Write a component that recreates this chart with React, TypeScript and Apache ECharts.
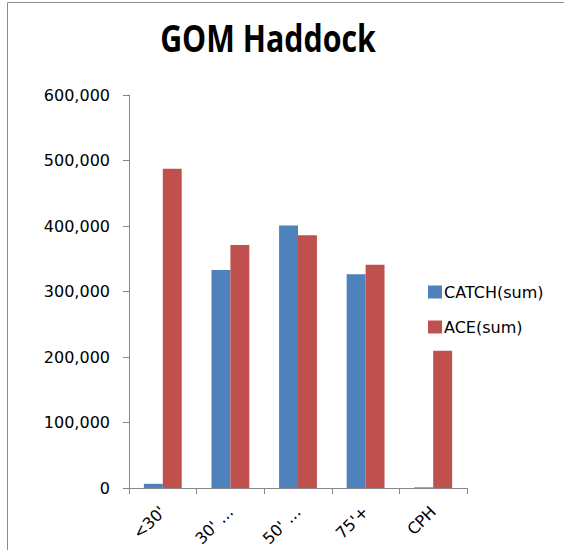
import React, { useEffect, useRef } from "react";
import * as echarts from "echarts";

const categories = ["<30'", "30' …", "50' …", "75'+", "CPH"];
const catchSum = [6400, 333000, 400600, 326500, 1000];
const aceSum = [487500, 371000, 386000, 340700, 209600];
const yTicks = [0, 100000, 200000, 300000, 400000, 500000, 600000];

export default function App() {
  const ref = useRef<HTMLDivElement>(null);
  useEffect(() => {
    const chart = echarts.init(ref.current!, null, { renderer: "svg" });
    const font = "DejaVu Sans";
    chart.setOption({
      animation: false,
      backgroundColor: "#ffffff",
      graphic: [
        {
          type: "rect",
          shape: { x: 7.5, y: 2.5, width: 600, height: 600 },
          style: { fill: "none", stroke: "#8c8c8c", lineWidth: 1 },
          silent: true,
        },
        {
          type: "text",
          x: 268,
          y: 19,
          scaleX: 0.82,
          style: {
            text: "GOM Haddock",
            fontFamily: "'Open Sans', sans-serif",
            fontWeight: "bold",
            fontSize: 37,
            fill: "#000000",
            textAlign: "center",
            textVerticalAlign: "top",
          },
        },
      ],
      legend: {
        orient: "vertical",
        left: 428,
        top: 284,
        padding: 0,
        itemWidth: 14,
        itemHeight: 13,
        itemGap: 19,
        icon: "rect",
        textStyle: { fontFamily: font, fontSize: 16, color: "#000", padding: [0, 0, 0, -3] },
        data: ["CATCH(sum)", "ACE(sum)"],
      },
      grid: { left: 129, right: 97, top: 95, bottom: 62, containLabel: false },
      xAxis: {
        type: "category",
        data: categories,
        axisLine: { lineStyle: { color: "#868686", width: 1 } },
        axisTick: { show: true, length: 6, lineStyle: { color: "#868686" } },
        axisLabel: {
          rotate: 45,
          margin: 21,
          fontFamily: font,
          fontSize: 16,
          color: "#000",
          interval: 0,
        },
      },
      yAxis: {
        type: "value",
        min: yTicks[0],
        max: yTicks[yTicks.length - 1],
        interval: 100000,
        splitLine: { show: false },
        axisLine: { show: true, lineStyle: { color: "#868686", width: 1 } },
        axisTick: { show: true, length: 6, lineStyle: { color: "#868686" } },
        axisLabel: {
          margin: 19,
          fontFamily: font,
          fontSize: 16,
          color: "#000",
          formatter: (v: number) => v.toLocaleString("en-US"),
        },
      },
      series: [
        {
          name: "CATCH(sum)",
          type: "bar",
          data: catchSum,
          itemStyle: { color: "#4F81BD" },
          barGap: "0%",
          barCategoryGap: "44%",
        },
        {
          name: "ACE(sum)",
          type: "bar",
          data: aceSum,
          itemStyle: { color: "#C0504D" },
          barGap: "0%",
          barCategoryGap: "44%",
        },
      ],
    });
    return () => chart.dispose();
  }, []);
  return (
    <div
      ref={ref}
      style={{ position: "fixed", left: 0, top: 0, width: 564, height: 550 }}
    />
  );
}
